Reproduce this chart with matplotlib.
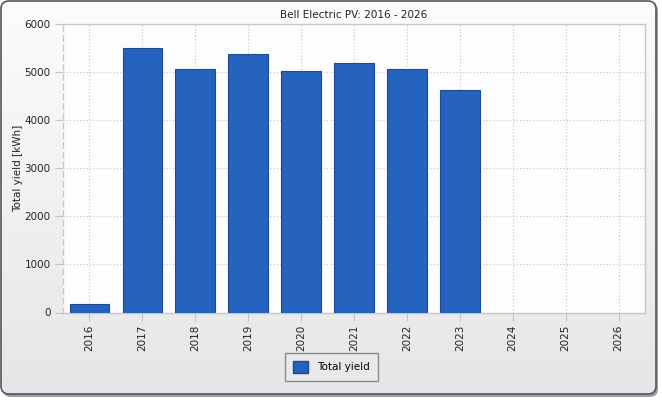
import numpy as np
import matplotlib
matplotlib.use('Agg')
import matplotlib.pyplot as plt
from matplotlib.patches import FancyBboxPatch, Patch

years = ['2016', '2017', '2018', '2019', '2020', '2021', '2022', '2023', '2024', '2025', '2026']
total_yield = [173, 5500, 5062, 5375, 5006, 5173, 5048, 4610, 0, 0, 0]
yticks = [0, 1000, 2000, 3000, 4000, 5000, 6000]

fig = plt.figure(figsize=(6.62, 4.0), dpi=100)
fig.patch.set_facecolor('white')

# background with gradient and rounded frame
bg = fig.add_axes([0, 0, 1, 1], zorder=-10)
bg.set_xlim(0, 662)
bg.set_ylim(400, 0)
bg.axis('off')
shadow = FancyBboxPatch((3, 3), 655, 394, boxstyle='round,pad=0,rounding_size=8',
                        fc='#9aa0a6', ec='none')
bg.add_patch(shadow)
grad = np.linspace(0, 1, 256).reshape(-1, 1)
im = bg.imshow(grad, extent=[1, 656, 394, 1], cmap=matplotlib.colors.LinearSegmentedColormap.from_list(
    'g', ['#fcfcfc', '#e6e6e6']), aspect='auto', zorder=1)
frame = FancyBboxPatch((1, 1), 655, 393, boxstyle='round,pad=0,rounding_size=8',
                       fc='none', ec='#4d5862', lw=1.2, zorder=2)
bg.add_patch(frame)
im.set_clip_path(frame)

ax = fig.add_axes([63 / 662, 1 - 312.5 / 400, 582 / 662, 289 / 400])
ax.set_facecolor('#fdfdfd')
x = np.arange(len(years))
lw = [0.8 if v > 0 else 0 for v in total_yield]
bars = ax.bar(x, total_yield, width=0.75, color='#2563be', edgecolor='#1c4b94',
              linewidth=lw, zorder=3, label='Total yield')
ax.set_xlim(-0.5, len(years) - 0.5)
ax.set_ylim(0, 6000)
ax.set_xticks(x)
ax.set_xticklabels(years, rotation=90, fontsize=7.5, color='#222222')
ax.set_yticks(yticks)
ax.set_yticklabels([str(v) for v in yticks], fontsize=7.5, color='#222222')
ax.grid(True, linestyle=(0, (1, 2)), color='#c4c4c4', linewidth=0.8, zorder=0)
ax.tick_params(axis='both', length=6, color='#c4c4c4', pad=3)
for t in ax.xaxis.get_ticklines() + ax.yaxis.get_ticklines():
    t.set_linestyle((0, (1, 2)))
for s in ax.spines.values():
    s.set_color('#c8c8c8')
    s.set_linewidth(1.0)
ax.spines['left'].set_linestyle((0, (4, 3)))
ax.set_ylabel('Total yield [kWh]', fontsize=7.5, color='#222222', labelpad=1)
ax.set_title('Bell Electric PV: 2016 - 2026', fontsize=7.5, color='#222222', pad=4)

leg = fig.legend(handles=[Patch(facecolor='#2563be', edgecolor='#1c4b94', label='Total yield')],
                 loc='center', bbox_to_anchor=(331.5 / 662, 1 - 367 / 400), fontsize=7.5,
                 frameon=True, fancybox=False, edgecolor='#6a747c', facecolor='#eaeaea',
                 handlelength=1.4, handleheight=1.4, borderpad=0.8, handletextpad=0.9)
leg.get_frame().set_linewidth(1.0)

fig.savefig('out.png', dpi=100)
